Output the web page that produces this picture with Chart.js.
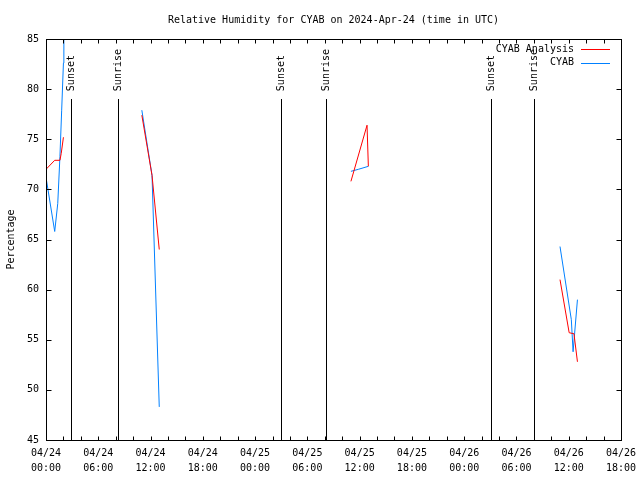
<!DOCTYPE html>
<html>
<head>
<meta charset="utf-8">
<script src="https://cdn.jsdelivr.net/npm/chart.js@4/dist/chart.umd.min.js"></script>
<style>
html,body{margin:0;padding:0;background:#fff;}
#wrap{width:640px;height:480px;}
</style>
</head>
<body>
<div id="wrap"><canvas id="c" width="640" height="480"></canvas></div>
<script>
// hours since 2024-04-24 00:00 UTC; null value = gap in record
const analysisTimes  = [0.0, 1.0, 1.6, 1.75, 2.0, 6, 11.0, 12.17, 13.0, 24, 35.0, 36.85, 37.0, 48, 59.0, 60.05, 60.6, 61.0];
const analysisValues = [72.0, 72.9, 72.9, 73.6, 75.2, null, 77.4, 71.4, 64.0, null, 70.8, 76.4, 72.3, null, 61.0, 55.7, 55.6, 52.8];
const cyabTimes  = [0.0, 1.0, 1.35, 1.6, 1.8, 2.0, 2.05, 6, 11.0, 12.17, 13.0, 24, 35.0, 35.85, 37.0, 48, 59.0, 60.3, 60.5, 61.0];
const cyabValues = [71.2, 65.8, 68.6, 73.3, 77.9, 82.6, 87.0, null, 77.9, 71.4, 48.3, null, 71.8, 72.0, 72.3, null, 64.3, 57.0, 53.8, 59.0];
const xTickLabels = ["04/24\n00:00","04/24\n06:00","04/24\n12:00","04/24\n18:00","04/25\n00:00","04/25\n06:00","04/25\n12:00","04/25\n18:00","04/26\n00:00","04/26\n06:00","04/26\n12:00","04/26\n18:00"];
const eventTimes  = [2.85, 8.3, 26.97, 32.14, 51.1, 56.0];
const eventLabels = ["Sunset", "Sunrise", "Sunset", "Sunrise", "Sunset", "Sunrise"];
const seriesNames = ["CYAB Analysis", "CYAB"];
const seriesColors = ["#ff0000", "#0080ff"];

const FONT = "'DejaVu Sans Mono', 'Liberation Mono', monospace";

function pts(ts, vs) { return ts.map((t, i) => ({ x: t, y: vs[i] })); }

const gnuplotDecor = {
  id: 'gnuplotDecor',
  beforeDatasetsDraw(chart) {
    const ctx = chart.ctx, xs = chart.scales.x, ys = chart.scales.y;
    ctx.save();
    ctx.strokeStyle = '#000';
    ctx.lineWidth = 1;
    ctx.fillStyle = '#000';
    ctx.font = '10px ' + FONT;
    const yTop = ys.getPixelForValue(79);
    eventTimes.forEach((t, i) => {
      const px = Math.round(xs.getPixelForValue(t)) + 0.5;
      ctx.beginPath();
      ctx.moveTo(px, Math.round(yTop));
      ctx.lineTo(px, ys.bottom);
      ctx.stroke();
      ctx.save();
      ctx.translate(px, yTop - 8);
      ctx.rotate(-Math.PI / 2);
      ctx.textAlign = 'left';
      ctx.textBaseline = 'middle';
      ctx.fillText(eventLabels[i], 0, 0);
      ctx.restore();
    });
    ctx.restore();
  },
  afterDatasetsDraw(chart) {
    const ctx = chart.ctx, xs = chart.scales.x, ys = chart.scales.y, a = chart.chartArea;
    ctx.save();
    ctx.strokeStyle = '#000';
    ctx.lineWidth = 1;
    const L = Math.round(a.left) + 0.5, R = Math.round(a.right) + 0.5;
    const T = Math.round(a.top) + 0.5, B = Math.round(a.bottom) + 0.5;
    ctx.beginPath();
    for (let t = xs.min; t <= xs.max; t += 2) {
      const px = Math.round(xs.getPixelForValue(t)) + 0.5;
      ctx.moveTo(px, B); ctx.lineTo(px, B - 4);
      ctx.moveTo(px, T); ctx.lineTo(px, T + 4);
    }
    for (let v = ys.min; v <= ys.max; v += 5) {
      const py = Math.round(ys.getPixelForValue(v)) + 0.5;
      ctx.moveTo(L, py); ctx.lineTo(L + 5, py);
      ctx.moveTo(R, py); ctx.lineTo(R - 5, py);
    }
    ctx.stroke();
    ctx.strokeRect(L, T, R - L, B - T);
    // legend
    ctx.font = '10px ' + FONT;
    ctx.textAlign = 'right';
    ctx.textBaseline = 'middle';
    chart.data.datasets.forEach((ds, i) => {
      const y = a.top + 10 + i * 13.5;
      ctx.fillStyle = '#000';
      ctx.fillText(ds.label, a.right - 47, y);
      ctx.strokeStyle = ds.borderColor;
      ctx.beginPath();
      ctx.moveTo(a.right - 40, Math.round(y) + 0.5);
      ctx.lineTo(a.right - 11, Math.round(y) + 0.5);
      ctx.stroke();
    });
    ctx.restore();
  }
};

new Chart(document.getElementById('c'), {
  type: 'line',
  data: {
    datasets: [
      { label: seriesNames[0], data: pts(analysisTimes, analysisValues), borderColor: seriesColors[0], borderWidth: 1, pointRadius: 0, tension: 0, spanGaps: false },
      { label: seriesNames[1], data: pts(cyabTimes, cyabValues), borderColor: seriesColors[1], borderWidth: 1, pointRadius: 0, tension: 0, spanGaps: false }
    ]
  },
  options: {
    responsive: false,
    animation: false,
    devicePixelRatio: 1,
    layout: { padding: { top: 0, right: 19, left: 0, bottom: 0 } },
    plugins: {
      legend: { display: false },
      tooltip: { enabled: false },
      title: {
        display: true,
        fullSize: false,
        text: 'Relative Humidity for CYAB on 2024-Apr-24 (time in UTC)',
        color: '#000',
        font: { family: FONT, size: 10, weight: 'normal', lineHeight: 1.2 },
        padding: { top: 14, bottom: 13 }
      }
    },
    scales: {
      x: {
        type: 'linear',
        min: 0, max: 66,
        ticks: {
          stepSize: 6,
          autoSkip: false,
          maxRotation: 0,
          color: '#000',
          padding: 6,
          font: { family: FONT, size: 10, lineHeight: 1.5 },
          callback: (v, i) => xTickLabels[i].split('\n')
        },
        grid: { display: false, drawTicks: false },
        border: { display: false },
        afterFit: s => { s.height = 40; s.paddingLeft = 0; s.paddingRight = 0; }
      },
      y: {
        min: 45, max: 85,
        ticks: {
          stepSize: 5,
          color: '#000',
          padding: 7,
          font: { family: FONT, size: 10 }
        },
        title: {
          display: true,
          text: 'Percentage',
          color: '#000',
          font: { family: FONT, size: 10 },
          padding: { top: 5, bottom: 0 }
        },
        grid: { display: false, drawTicks: false },
        border: { display: false },
        afterFit: s => { s.width = 46; s.paddingTop = 0; s.paddingBottom = 0; }
      }
    }
  },
  plugins: [gnuplotDecor]
});
</script>
</body>
</html>
